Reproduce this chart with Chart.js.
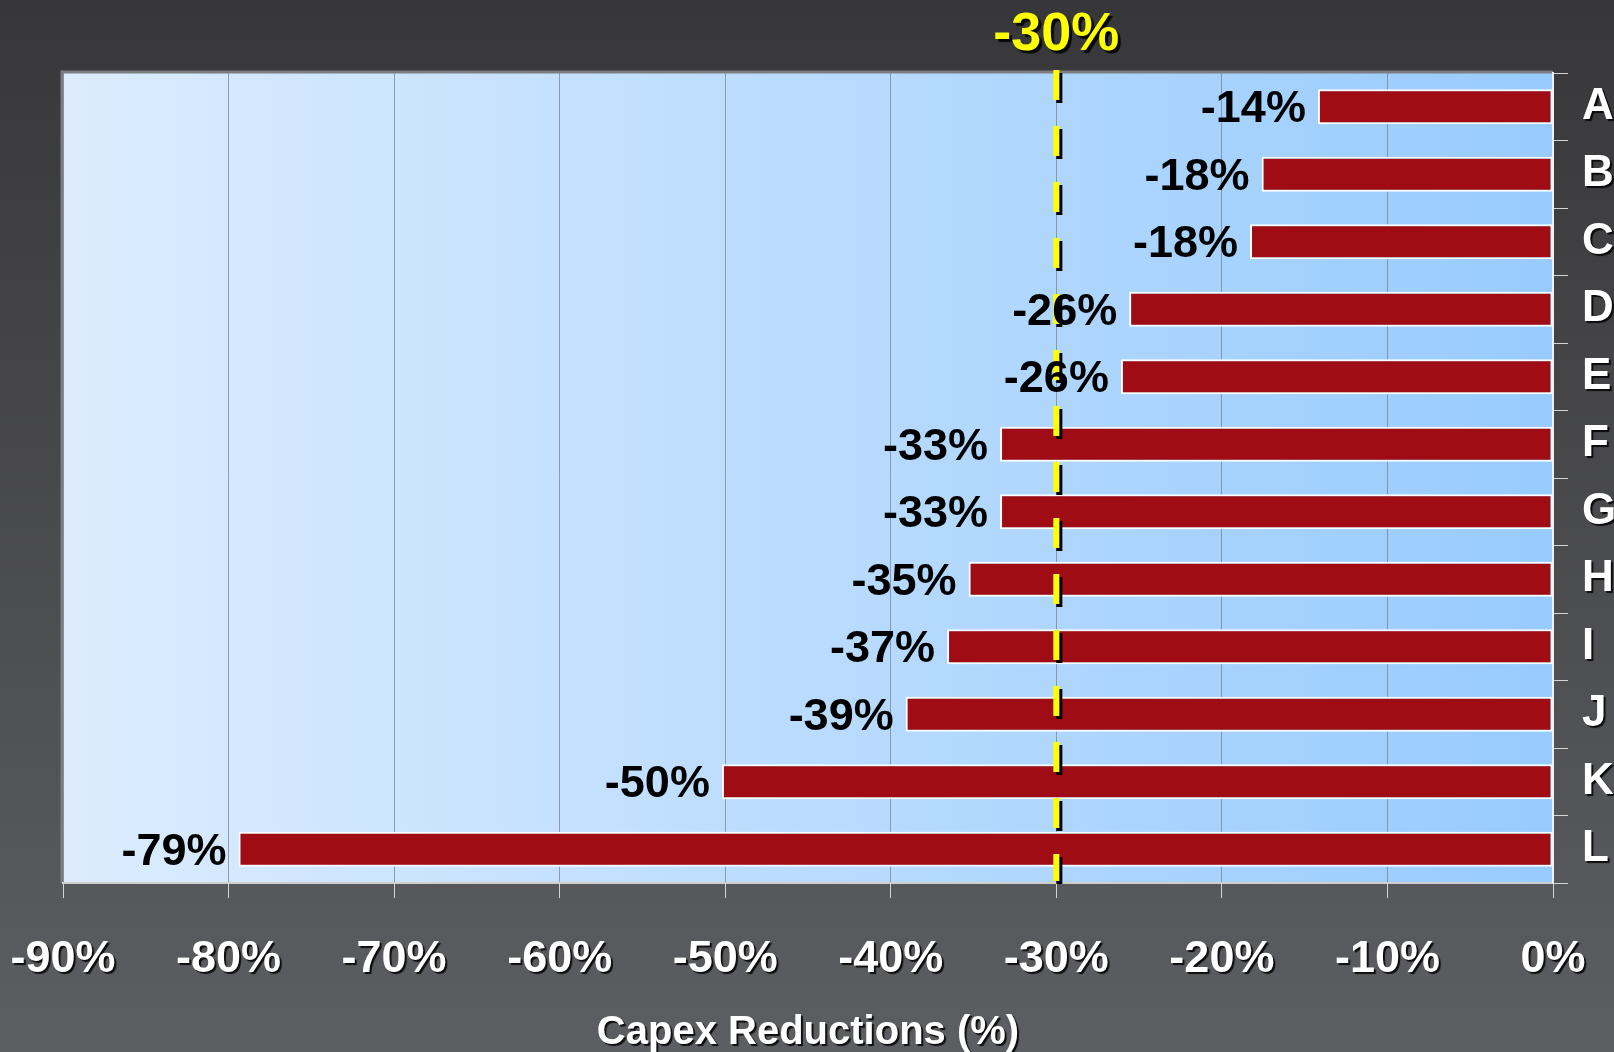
<!DOCTYPE html>
<html>
<head>
<meta charset="utf-8">
<title>Capex Reductions</title>
<script src="https://cdn.jsdelivr.net/npm/chart.js@4.4.1/dist/chart.umd.min.js"></script>
<style>
  html, body { margin: 0; padding: 0; background: #4a4a4c; }
  #wrap { width: 1614px; height: 1052px; }
</style>
</head>
<body>
<div id="wrap"><canvas id="capexChart" width="1614" height="1052"></canvas></div>
<script>
// values
const categories = ['A', 'B', 'C', 'D', 'E', 'F', 'G', 'H', 'I', 'J', 'K', 'L'];
const reductions = [-14.2, -17.6, -18.3, -25.6, -26.1, -33.4, -33.4, -35.3, -36.6, -39.1, -50.2, -79.4];
const reductionLabels = ['-14%', '-18%', '-18%', '-26%', '-26%', '-33%', '-33%', '-35%', '-37%', '-39%', '-50%', '-79%'];
const targetValue = -30;
const targetLabel = '-30%';
const xMin = -90;
const xMax = 0;
const xStep = 10;
const axisTitle = 'Capex Reductions (%)';

const FONT = '"Liberation Sans", Arial, Helvetica, sans-serif';
Chart.defaults.font.family = FONT;
Chart.defaults.font.weight = 'bold';

function setShadow(ctx, on, off) {
  ctx.shadowColor = on ? 'rgba(0,0,0,0.85)' : 'rgba(0,0,0,0)';
  ctx.shadowOffsetX = on ? (off || 2) : 0;
  ctx.shadowOffsetY = on ? (off || 2) : 0;
  ctx.shadowBlur = on ? 1 : 0;
}

// dark page gradient + light blue plot area
const backdrop = {
  id: 'backdrop',
  beforeDraw(chart) {
    const { ctx, width, height, chartArea: a } = chart;
    ctx.save();
    let g = ctx.createLinearGradient(0, 0, 0, height);
    g.addColorStop(0, '#37373a');
    g.addColorStop(1, '#5d5e61');
    ctx.fillStyle = g;
    ctx.fillRect(0, 0, width, height);

    g = ctx.createLinearGradient(a.left, 0, a.right, 0);
    g.addColorStop(0, '#dcecfe');
    g.addColorStop(1, '#98cbfe');
    ctx.fillStyle = g;
    ctx.fillRect(a.left, a.top, a.right - a.left, a.bottom - a.top);

    ctx.strokeStyle = '#7d7d80';
    ctx.lineWidth = 3;
    ctx.beginPath();
    ctx.moveTo(a.left - 1, a.bottom);
    ctx.lineTo(a.left - 1, a.top - 1);
    ctx.lineTo(a.right, a.top - 1);
    ctx.stroke();
    ctx.restore();
  }
};

// target line, value labels and texts with shadows
const overlay = {
  id: 'overlay',
  afterDatasetsDraw(chart) {
    const { ctx, chartArea: a, scales: { x } } = chart;
    const lx = x.getPixelForValue(targetValue);

    ctx.save();
    ctx.lineWidth = 6;
    ctx.setLineDash([30, 26]);
    ctx.strokeStyle = '#000000';
    ctx.beginPath();
    ctx.moveTo(lx + 3, a.top);
    ctx.lineTo(lx + 3, a.bottom + 1);
    ctx.stroke();
    ctx.strokeStyle = '#ffff00';
    ctx.beginPath();
    ctx.moveTo(lx, a.top - 3);
    ctx.lineTo(lx, a.bottom - 2);
    ctx.stroke();
    ctx.restore();

    const meta = chart.getDatasetMeta(0);
    ctx.save();
    ctx.font = 'bold 45px ' + FONT;
    ctx.fillStyle = '#000000';
    ctx.textAlign = 'right';
    ctx.textBaseline = 'middle';
    meta.data.forEach((bar, i) => {
      ctx.fillText(reductionLabels[i], bar.x - 12, bar.y + 3);
    });
    ctx.restore();

    // tick labels (z: 1) are drawn after this hook
    setShadow(ctx, true, 2);
  },
  afterDraw(chart) {
    const { ctx, chartArea: a, scales: { x } } = chart;
    ctx.save();
    ctx.textAlign = 'center';
    ctx.textBaseline = 'middle';

    setShadow(ctx, true, 2);
    ctx.font = 'bold 40px ' + FONT;
    ctx.fillStyle = '#ffffff';
    ctx.fillText(axisTitle, (a.left + a.right) / 2, 1033);

    setShadow(ctx, true, 3);
    ctx.font = 'bold 54px ' + FONT;
    ctx.fillStyle = '#ffff00';
    ctx.fillText(targetLabel, x.getPixelForValue(targetValue), 35);
    ctx.restore();
    setShadow(ctx, false);
  }
};

const ctx = document.getElementById('capexChart');
new Chart(ctx, {
  type: 'bar',
  data: {
    labels: categories,
    datasets: [{
      label: 'Capex reduction',
      data: reductions,
      backgroundColor: '#a00c14',
      borderColor: '#ffffff',
      borderWidth: 2,
      borderSkipped: false,
      categoryPercentage: 1,
      barPercentage: 0.52
    }]
  },
  options: {
    indexAxis: 'y',
    responsive: false,
    animation: false,
    layout: { padding: { left: 63, top: 73, right: 0, bottom: 0 } },
    plugins: {
      legend: { display: false },
      tooltip: { enabled: false }
    },
    scales: {
      x: {
        min: xMin,
        max: xMax,
        ticks: {
          stepSize: xStep,
          color: '#ffffff',
          font: { size: 45, weight: 'bold' },
          padding: 35,
          z: 1,
          maxRotation: 0,
          autoSkip: false,
          callback: v => v + '%'
        },
        grid: {
          color: 'rgba(115,125,140,0.7)',
          tickColor: '#d4d4d4',
          tickLength: 15,
          lineWidth: 1
        },
        border: { color: '#cfcfcf', width: 2 },
        afterFit(s) {
          s.height = 169;
          s.paddingLeft = 0;
          s.paddingRight = 0;
        }
      },
      y: {
        position: 'right',
        ticks: {
          color: '#ffffff',
          font: { size: 44, weight: 'bold' },
          padding: 14,
          z: 1
        },
        grid: {
          drawOnChartArea: false,
          tickColor: '#d4d4d4',
          tickLength: 15
        },
        border: { color: '#f0f0f0', width: 2 },
        afterFit(s) {
          s.width = 61;
          s.paddingTop = 0;
          s.paddingBottom = 0;
        }
      }
    }
  },
  plugins: [backdrop, overlay]
});
</script>
</body>
</html>
